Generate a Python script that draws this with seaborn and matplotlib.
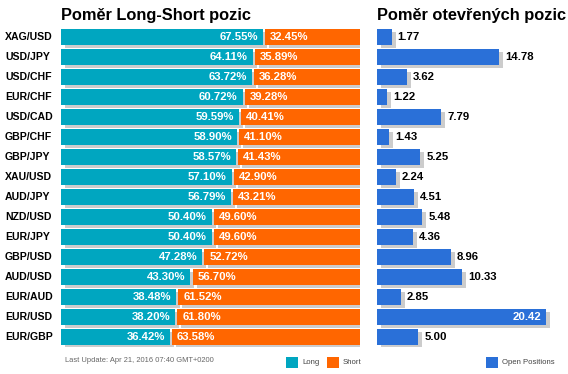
import numpy as np
import pandas as pd
import seaborn as sns
import matplotlib
matplotlib.use("Agg")
import matplotlib.pyplot as plt
import matplotlib.transforms as mtransforms
from matplotlib.patches import Rectangle

# ---------------- data ----------------
pairs = ["XAG/USD", "USD/JPY", "USD/CHF", "EUR/CHF", "USD/CAD", "GBP/CHF",
         "GBP/JPY", "XAU/USD", "AUD/JPY", "NZD/USD", "EUR/JPY", "GBP/USD",
         "AUD/USD", "EUR/AUD", "EUR/USD", "EUR/GBP"]
long_pct = [67.55, 64.11, 63.72, 60.72, 59.59, 58.90, 58.57, 57.10,
            56.79, 50.40, 50.40, 47.28, 43.30, 38.48, 38.20, 36.42]
short_pct = [32.45, 35.89, 36.28, 39.28, 40.41, 41.10, 41.43, 42.90,
             43.21, 49.60, 49.60, 52.72, 56.70, 61.52, 61.80, 63.58]
open_pos = [1.77, 14.78, 3.62, 1.22, 7.79, 1.43, 5.25, 2.24,
            4.51, 5.48, 4.36, 8.96, 10.33, 2.85, 20.42, 5.00]

title_left = "Poměr Long-Short pozic"
title_right = "Poměr otevřených pozic"
footer = "Last Update: Apr 21, 2016 07:40 GMT+0200"
legend_left = ["Long", "Short"]
legend_right = "Open Positions"

C_LONG = "#00a6c0"
C_SHORT = "#ff6600"
C_OPEN = "#2a70d8"
C_SHADOW = "#cccccc"

sns.set_style("white")
plt.rcParams["font.family"] = ["Liberation Sans", "DejaVu Sans"]

W, H = 568, 374
DPI = 100
fig = plt.figure(figsize=(W / DPI, H / DPI), dpi=DPI)


def fx(x):
    return x / W


def fy(y):
    return 1 - y / H


def add_ax(x0, x1, y0, y1):
    return fig.add_axes([fx(x0), fy(y1), fx(x1) - fx(x0), (y1 - y0) / H])


df = pd.DataFrame({"pair": pairs, "long": long_pct, "short": short_pct, "open": open_pos})
n = len(pairs)
ypos = np.arange(n)
shadow_off = mtransforms.ScaledTranslation(4 / DPI, -3 / DPI, fig.dpi_scale_trans)
gap = 0.7
bh = 0.8
noedge = dict(linewidth=0, edgecolor="none")

# ---------------- left panel ----------------
axL = add_ax(61, 360, 27, 347)
longs = df["long"].to_numpy()
shorts = df["short"].to_numpy()
axL.barh(ypos, longs, height=bh, color=C_SHADOW, zorder=1,
         transform=axL.transData + shadow_off, **noedge)
axL.barh(ypos, shorts - gap, left=longs + gap, height=bh, color=C_SHADOW, zorder=1,
         transform=axL.transData + shadow_off, **noedge)
sns.barplot(data=df, x="long", y="pair", orient="h", color=C_LONG, saturation=1,
            width=bh, ax=axL, zorder=2, **noedge)
axL.barh(ypos, shorts - gap, left=longs + gap, height=bh, color=C_SHORT, zorder=2, **noedge)
axL.set_xlim(0, 100)
axL.set_ylim(n - 0.5, -0.5)
axL.axis("off")

VFS = 8.2
off_l = mtransforms.ScaledTranslation(-5 / DPI, 0, fig.dpi_scale_trans)
off_r = mtransforms.ScaledTranslation(5 / DPI, 0, fig.dpi_scale_trans)
for i in range(n):
    axL.text(longs[i], i, f"{longs[i]:.2f}%", color="white", fontsize=VFS,
             fontweight="bold", ha="right", va="center", zorder=3,
             transform=axL.transData + off_l)
    axL.text(longs[i] + gap, i, f"{shorts[i]:.2f}%", color="white", fontsize=VFS,
             fontweight="bold", ha="left", va="center", zorder=3,
             transform=axL.transData + off_r)

blend = mtransforms.blended_transform_factory(fig.transFigure, axL.transData)
for i, p in enumerate(pairs):
    axL.text(fx(5), i, p, transform=blend, ha="left", va="center",
             fontsize=7.6, fontweight="bold", color="black", clip_on=False)

# ---------------- right panel ----------------
px_per_unit = 8.26
axR = add_ax(377, 568, 27, 347)
opens = df["open"].to_numpy()
axR.barh(ypos, opens, height=bh, color=C_SHADOW, zorder=1,
         transform=axR.transData + shadow_off, **noedge)
sns.barplot(data=df, x="open", y="pair", orient="h", color=C_OPEN, saturation=1,
            width=bh, ax=axR, zorder=2, **noedge)
axR.set_xlim(0, (568 - 377) / px_per_unit)
axR.set_ylim(n - 0.5, -0.5)
axR.axis("off")

off_out = mtransforms.ScaledTranslation(6 / DPI, 0, fig.dpi_scale_trans)
off_in = mtransforms.ScaledTranslation(-4 / DPI, 0, fig.dpi_scale_trans)
for i in range(n):
    v = opens[i]
    if v > 18:
        axR.text(v, i, f"{v:.2f}", color="white", fontsize=VFS, fontweight="bold",
                 ha="right", va="center", zorder=3, transform=axR.transData + off_in)
    else:
        axR.text(v, i, f"{v:.2f}", color="black", fontsize=VFS, fontweight="bold",
                 ha="left", va="center", zorder=3, transform=axR.transData + off_out)

# ---------------- titles ----------------
fig.text(fx(61), fy(20), title_left, fontsize=11.8, fontweight="bold",
         ha="left", va="baseline", color="black")
fig.text(fx(377), fy(20), title_right, fontsize=11.8, fontweight="bold",
         ha="left", va="baseline", color="black")

# ---------------- footer & legend ----------------
fig.text(fx(65), fy(360), footer, fontsize=5.4, color="#666666", ha="left", va="center")


def legend_item(x, label, color):
    fig.patches.append(Rectangle((fx(x), fy(368)), 12 / W, 11 / H, color=color,
                                 linewidth=0, transform=fig.transFigure, figure=fig))
    fig.text(fx(x + 16), fy(363), label, fontsize=5.6, color="#444444",
             ha="left", va="center")


legend_item(286, legend_left[0], C_LONG)
legend_item(327, legend_left[1], C_SHORT)
legend_item(486, legend_right, C_OPEN)

fig.savefig("out.png", dpi=DPI)
